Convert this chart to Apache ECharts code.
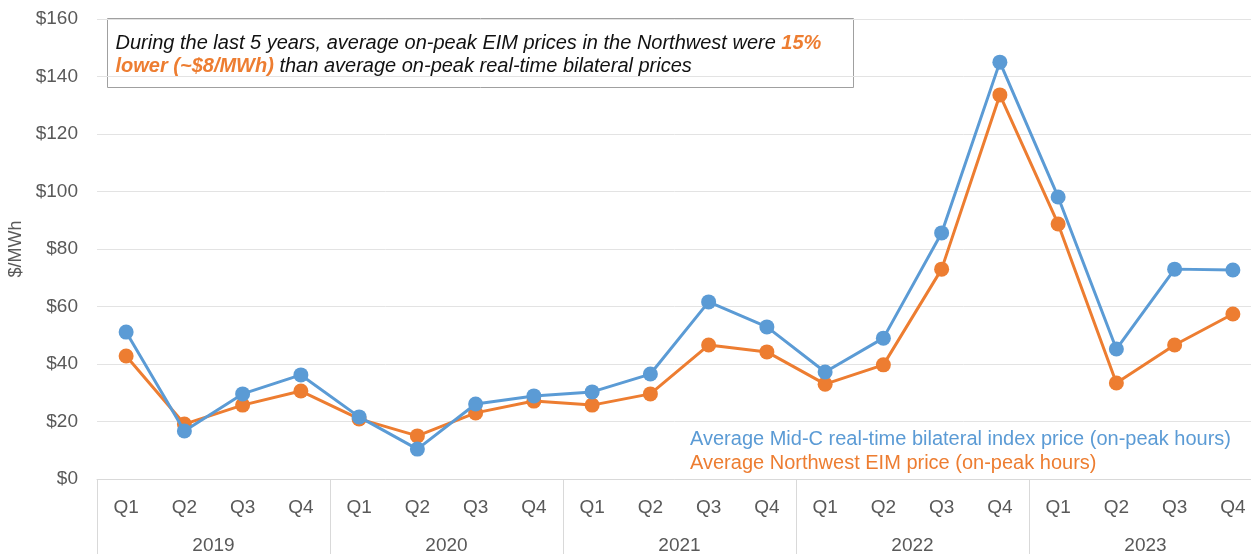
<!DOCTYPE html>
<html>
<head>
<meta charset="utf-8" />
<title>Mid-C vs Northwest EIM prices</title>
<script src="https://cdn.jsdelivr.net/npm/echarts@6/dist/echarts.min.js"></script>
<style>
  html, body { margin: 0; padding: 0; background: #fff; }
  #chart { width: 1251px; height: 554px; }
</style>
</head>
<body>
<div id="chart"></div>
<script type="text/javascript">
  // data
  var quarters = ['Q1', 'Q2', 'Q3', 'Q4', 'Q1', 'Q2', 'Q3', 'Q4', 'Q1', 'Q2', 'Q3', 'Q4',
                  'Q1', 'Q2', 'Q3', 'Q4', 'Q1', 'Q2', 'Q3', 'Q4'];
  var years = ['2019', '2020', '2021', '2022', '2023'];
  var midC = [51.1, 16.7, 29.6, 36.2, 21.6, 10.4, 26.1, 28.9, 30.3, 36.5,
              61.6, 52.9, 37.2, 49.0, 85.6, 145.0, 98.1, 45.2, 73.0, 72.7];
  var eim = [42.8, 19.1, 25.7, 30.6, 20.9, 15.0, 23.0, 27.1, 25.7, 29.6,
             46.6, 44.2, 33.0, 39.7, 73.0, 133.6, 88.7, 33.4, 46.6, 57.4];
  var nameMidC = 'Average Mid-C real-time bilateral index price (on-peak hours)';
  var nameEim = 'Average Northwest EIM price (on-peak hours)';

  var blue = '#5b9bd5', orange = '#ed7d31';
  var font = '"Liberation Sans", Arial, sans-serif';

  var myChart = echarts.init(document.getElementById('chart'));

  myChart.setOption({
    animation: false,
    textStyle: { fontFamily: font },
    // the plot runs a little past the right edge, like the original
    grid: { left: 97, width: 1165, top: 19, bottom: 75, outerBoundsMode: 'none', containLabel: false },
    legend: {
      orient: 'vertical',
      left: 680,
      top: 424,
      itemGap: 4,
      itemWidth: 0,
      itemHeight: 0,
      icon: 'none',
      selectedMode: false,
      textStyle: { fontSize: 20, fontFamily: font, padding: 0 },
      data: [
        { name: nameMidC, textStyle: { color: blue } },
        { name: nameEim, textStyle: { color: orange } }
      ]
    },
    xAxis: [{
      type: 'category',
      data: quarters,
      position: 'bottom',
      axisLine: { lineStyle: { color: '#d9d9d9', width: 1 } },
      axisTick: { show: false },
      axisLabel: { color: '#595959', fontSize: 19, margin: 19 }
    }, {
      type: 'category',
      data: years,
      position: 'bottom',
      axisLine: { show: false },
      axisTick: { show: true, length: 76, lineStyle: { color: '#d9d9d9' } },
      axisLabel: { color: '#595959', fontSize: 19, margin: 57 }
    }],
    yAxis: {
      type: 'value',
      min: 0,
      max: 160,
      interval: 20,
      name: '$/MWh',
      nameLocation: 'middle',
      nameGap: 69,
      nameTextStyle: { color: '#595959', fontSize: 18 },
      axisLine: { show: false },
      axisTick: { show: false },
      axisLabel: { color: '#595959', fontSize: 19, margin: 19, formatter: '${value}' },
      splitLine: { lineStyle: { color: '#e3e3e3', width: 1 } }
    },
    graphic: [{
      type: 'group',
      left: 107,
      top: 18,
      children: [{
        type: 'rect',
        shape: { x: 0, y: 0, width: 746, height: 69 },
        style: { fill: '#fff', stroke: '#a0a0a0', lineWidth: 1 }
      }, {
        type: 'text',
        x: 8,
        y: 13,
        style: {
          text: '{n|During the last 5 years, average on-peak EIM prices in the Northwest were }{o|15%}\n' +
                '{o|lower (~$8/MWh)}{n| than average on-peak real-time bilateral prices}',
          rich: {
            n: { fontSize: 20, fontStyle: 'italic', fill: '#111', fontFamily: font, lineHeight: 23 },
            o: { fontSize: 20, fontStyle: 'italic', fontWeight: 'bold', fill: orange, fontFamily: font, lineHeight: 23 }
          }
        }
      }]
    }],
    series: [{
      name: nameMidC,
      type: 'line',
      data: midC,
      symbol: 'circle',
      symbolSize: 15,
      lineStyle: { color: blue, width: 3 },
      itemStyle: { color: blue },
      z: 3
    }, {
      name: nameEim,
      type: 'line',
      data: eim,
      symbol: 'circle',
      symbolSize: 15,
      lineStyle: { color: orange, width: 3 },
      itemStyle: { color: orange },
      z: 2
    }]
  });
</script>
</body>
</html>
